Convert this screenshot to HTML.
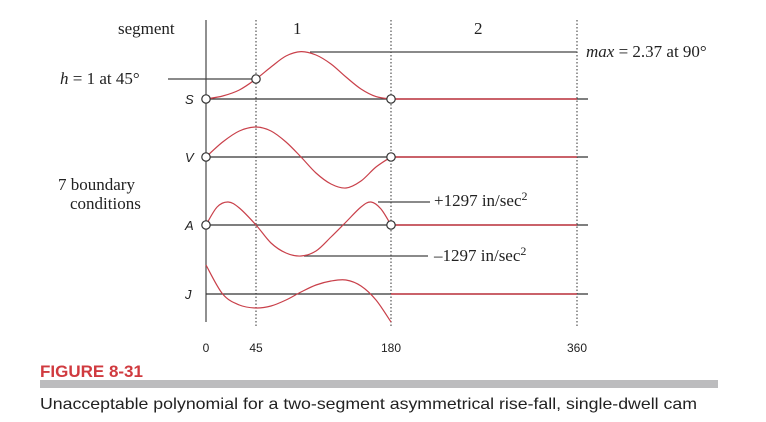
<!DOCTYPE html>
<html><head><meta charset="utf-8"><style>
html,body{margin:0;padding:0;background:#fff;width:766px;height:422px;overflow:hidden}
svg{display:block}
.serif{font-family:"Liberation Serif",serif;fill:#222}
.sans{font-family:"Liberation Sans",sans-serif;fill:#222}
</style></head><body>
<svg id="chart" width="766" height="422" viewBox="0 0 766 422">
<g id="grid"></g><g id="curves"></g><g id="marks"></g>
<text class="serif" x="118" y="34" font-size="17">segment</text>
<text class="serif" x="293" y="34" font-size="17">1</text>
<text class="serif" x="474" y="34" font-size="17">2</text>
<text class="serif" x="586" y="57" font-size="17"><tspan font-style="italic">max</tspan> = 2.37 at 90°</text>
<text class="serif" x="60" y="84" font-size="17"><tspan font-style="italic">h</tspan> = 1 at 45°</text>
<text class="serif" x="58" y="190" font-size="17">7 boundary</text>
<text class="serif" x="70" y="209" font-size="17">conditions</text>
<text class="serif" x="434" y="206" font-size="17">+1297  in/sec<tspan dy="-6" font-size="12">2</tspan></text>
<text class="serif" x="434" y="261" font-size="17">–1297  in/sec<tspan dy="-6" font-size="12">2</tspan></text>
<text class="sans" x="40" y="377" font-size="17" font-weight="bold" style="fill:#d03a3f">FIGURE 8-31</text>
<rect x="40" y="380" width="678" height="8" fill="#bcbcbe"/>
<text class="sans" x="40" y="409" font-size="16" textLength="657" lengthAdjust="spacingAndGlyphs">Unacceptable polynomial for a two-segment asymmetrical rise-fall, single-dwell cam</text>
</svg>
<script>
const ticks=[0,45,180,360];
const sAngles=[0,15,30,45,60,75,90,105,120,135,150,165,180];
const sValues=[0,0.15,0.45,1,1.6,2.15,2.37,2.2,1.75,1.1,0.5,0.12,0];
const vAngles=[0,15,30,45,60,75,90,105,120,135,150,165,180];
const vValues=[0,15,26,30,26,15,0,-16,-27,-31,-24,-10,0];
const aAngles=[0,10,20,30,45,60,75,90,105,120,135,150,160,170,180];
const aValues=[0,18,23,17,0,-18,-28,-31,-26,-12,3,18,23,16,0];
const jAngles=[0,15,30,45,60,75,90,105,120,135,150,165,180];
const jValues=[29,0,-11,-14,-12,-6,2,9,13,14,8,-6,-28];
const NS='http://www.w3.org/2000/svg';
const xs=a=>a<=45?206+a*50/45:(a<=180?256+(a-45)*135/135:391+(a-180)*186/180);
function mk(p,tag,at){const e=document.createElementNS(NS,tag);for(const k in at)e.setAttribute(k,at[k]);p.appendChild(e);return e;}
const G=document.getElementById('grid'),C=document.getElementById('curves'),M=document.getElementById('marks');
let ax=mk(G,'line',{x1:206,y1:20,x2:206,y2:322,stroke:'#555','stroke-width':1.3});


[45,180,360].forEach(a=>{let l=mk(G,'line',{x1:xs(a),y1:20,x2:xs(a),y2:326,stroke:'#555','stroke-width':1.2,'stroke-dasharray':'1.5,2'});

});
ticks.forEach(t=>{let e=mk(G,'text',{x:xs(t),y:352,'text-anchor':'middle','font-size':12,class:'sans'});e.textContent=t;

});
[[310,52,577,52],[168,79,256,79],[378,202,430,202],[304,256,428,256]].forEach((p,i)=>{let l=mk(G,'line',{x1:p[0],y1:p[1],x2:p[2],y2:p[3],stroke:'#444','stroke-width':1.2});

});
const rows=[['S',99,sAngles,sValues,20],['V',157,vAngles,vValues,1],['A',225,aAngles,aValues,1],['J',294,jAngles,jValues,1]];
rows.forEach(([n,base,angs,vals,sc])=>{
 let b=mk(G,'line',{x1:206,y1:base,x2:588,y2:base,stroke:'#333','stroke-width':1.2});
 
 
 let t=mk(G,'text',{x:185,y:base+5,'font-size':13,'font-style':'italic',class:'sans'});t.textContent=n;
 
 
 const pts=angs.map((a,i)=>[xs(a),base-vals[i]*sc]);
 let d='M'+pts[0][0]+','+pts[0][1];
 for(let i=0;i<pts.length-1;i++){const p0=pts[Math.max(0,i-1)],p1=pts[i],p2=pts[i+1],p3=pts[Math.min(pts.length-1,i+2)];
  d+=' C'+(p1[0]+(p2[0]-p0[0])/6)+','+(p1[1]+(p2[1]-p0[1])/6)+' '+(p2[0]-(p3[0]-p1[0])/6)+','+(p2[1]-(p3[1]-p1[1])/6)+' '+p2[0]+','+p2[1];}
 let c=mk(C,'path',{d:d,fill:'none',stroke:'#c9404a','stroke-width':1.2});
 
 
 let dw=mk(C,'line',{x1:xs(180),y1:base,x2:xs(360),y2:base,stroke:'#c9404a','stroke-width':1.6});
 
 
});
const circ=[[0,99],[45,99-sValues[3]*20],[180,99],[0,157],[180,157],[0,225],[180,225]];
circ.forEach((p,i)=>{let c=mk(M,'circle',{cx:xs(p[0]),cy:p[1],r:4.2,fill:'#fff',stroke:'#333','stroke-width':1.2});

});
</script>
</body></html>
